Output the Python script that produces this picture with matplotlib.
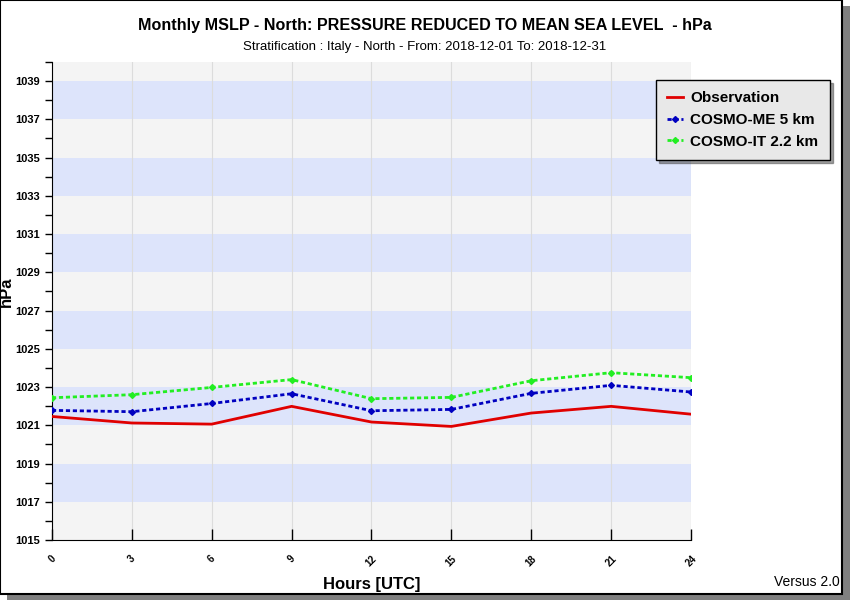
import matplotlib.pyplot as plt
from matplotlib.patches import Rectangle

plt.rcParams['font.family'] = ['Liberation Sans', 'DejaVu Sans']

hours = [0, 3, 6, 9, 12, 15, 18, 21, 24]
observation = [1021.46, 1021.12, 1021.06, 1021.99, 1021.17, 1020.94, 1021.64, 1021.99, 1021.58]
cosmo_me = [1021.78, 1021.71, 1022.14, 1022.65, 1021.76, 1021.83, 1022.67, 1023.09, 1022.74]
cosmo_it = [1022.44, 1022.60, 1022.98, 1023.39, 1022.39, 1022.46, 1023.33, 1023.75, 1023.49]
y_labels = [1015, 1017, 1019, 1021, 1023, 1025, 1027, 1029, 1031, 1033, 1035, 1037, 1039]

fig = plt.figure(figsize=(8.5, 6), dpi=100)

# frame with shadow
fig.patches.append(Rectangle((0.008, 0.0), 0.992, 0.99, transform=fig.transFigure,
                             facecolor='#808080', edgecolor='none', zorder=-2))
fig.patches.append(Rectangle((0.0, 0.01), 0.991, 0.99, transform=fig.transFigure,
                             facecolor='white', edgecolor='black', linewidth=1.5, zorder=-1))

ax = fig.add_axes([52/850, 60/600, 639/850, 478/600])
ax.set_xlim(0, 24)
ax.set_ylim(1015, 1040)

# alternating bands
for i, lo in enumerate(range(1015, 1040, 2)):
    col = '#f4f4f4' if i % 2 == 0 else '#dde4fb'
    ax.axhspan(lo, min(lo + 2, 1040), color=col, zorder=0, linewidth=0)

for h in hours:
    ax.axvline(h, color='#dcdcdc', linewidth=0.8, zorder=1)

ax.plot(hours, observation, color='#e00000', linewidth=2, zorder=3, label='Observation')
ax.plot(hours, cosmo_me, color='#0000c0', linestyle=(0, (1.5, 1)), linewidth=2,
        marker='D', markersize=3, zorder=3, label='COSMO-ME 5 km')
ax.plot(hours, cosmo_it, color='#22ee22', linestyle=(0, (1.5, 1)), linewidth=2,
        marker='D', markersize=3, zorder=3, label='COSMO-IT 2.2 km')

ax.set_xticks(hours)
ax.set_xticklabels([str(h) for h in hours], rotation=45, fontsize=7, fontweight='bold')
ax.set_yticks(y_labels)
ax.set_yticklabels([str(v) for v in y_labels], fontsize=8, fontweight='bold')
ax.set_yticks(range(1016, 1041, 2), minor=True)
ax.tick_params(axis='y', which='both', direction='out', length=5, width=1)
ax.tick_params(axis='x', direction='in', length=8, width=1, pad=10)
for s in ['top', 'right']:
    ax.spines[s].set_visible(False)

ax.set_xlabel('Hours [UTC]', fontsize=12, fontweight='bold')
ax.xaxis.set_label_coords(0.5, -0.077)
ax.set_ylabel('hPa', fontsize=12, fontweight='bold')
ax.yaxis.set_label_coords(-0.06, 0.52)

fig.text(0.5, 0.957, 'Monthly MSLP - North: PRESSURE REDUCED TO MEAN SEA LEVEL  - hPa',
         ha='center', va='center', fontsize=11.6, fontweight='bold')
fig.text(0.5, 0.922, 'Stratification : Italy - North - From: 2018-12-01 To: 2018-12-31',
         ha='center', va='center', fontsize=9.5)
fig.text(0.988, 0.018, 'Versus 2.0', ha='right', va='bottom', fontsize=10)

leg = fig.legend(loc='upper left', bbox_to_anchor=(656/850, 1 - 80/600), fontsize=11,
                 frameon=True, fancybox=False, shadow=True, handlelength=1.0,
                 borderpad=0.75, labelspacing=0.5, handletextpad=0.5, borderaxespad=0)
leg.get_frame().set_facecolor('#e8e8e8')
leg.get_frame().set_edgecolor('black')
for t in leg.get_texts():
    t.set_fontweight('bold')

fig.savefig('out.png', dpi=100)
